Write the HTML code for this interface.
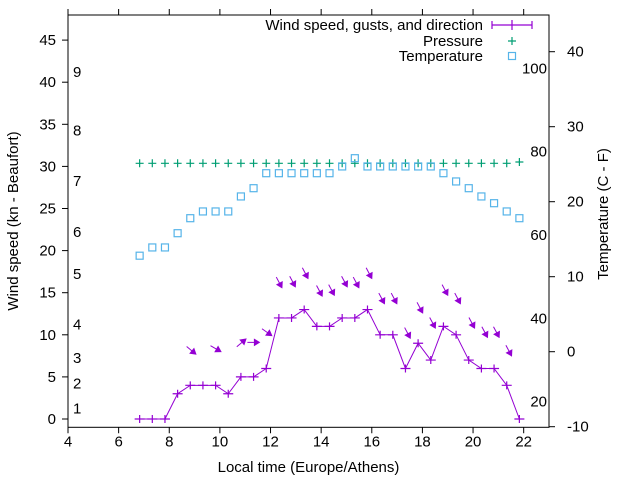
<!DOCTYPE html>
<html><head><meta charset="utf-8"><style>
html,body{margin:0;padding:0;background:#fff}
svg{display:block;font-family:"Liberation Sans",Arial,sans-serif}
</style></head><body>
<svg id="chart" width="640" height="480" viewBox="0 0 640 480" xmlns="http://www.w3.org/2000/svg">
<g id="axes"></g><g id="marks"></g><g id="legend"></g>
</svg>
<script>
const times = [6.83,7.33,7.83,8.33,8.83,9.33,9.83,10.33,10.83,11.33,11.83,12.33,12.83,13.33,13.83,14.33,14.83,15.33,15.83,16.33,16.83,17.33,17.83,18.33,18.83,19.33,19.83,20.33,20.83,21.33,21.83];
const windSpeed = [0,0,0,3,4,4,4,3,5,5,6,12,12,13,11,11,12,12,13,10,10,6,9,7,11,10,7,6,6,4,0];
const pressure = [1013,1013,1013,1013,1013,1013,1013,1013,1013,1013,1013,1013,1013,1013,1013,1013,1013,1013,1013,1013,1013,1013,1013,1013,1013,1013,1013,1013,1013,1013,1014];
const temperature = [12.8,13.9,13.9,15.8,17.8,18.7,18.7,18.7,20.7,21.8,23.8,23.8,23.8,23.8,23.8,23.8,24.7,25.8,24.7,24.7,24.7,24.7,24.7,24.7,23.8,22.7,21.8,20.7,19.8,18.7,17.8];
const arrowTime = [9.05,10.04,11.03,11.56,12.05,12.45,12.98,13.48,14.04,14.52,15.03,15.49,16.0,16.5,16.99,17.52,18.01,18.51,19.0,19.5,20.06,20.57,21.03,21.52];
const arrowLevel = [7.7,8.0,9.5,9.1,9.9,15.6,15.7,16.7,14.6,14.7,15.7,15.6,16.7,13.7,13.7,9.6,12.6,10.8,14.7,13.7,10.8,9.7,9.7,7.5];
const arrowAngle = [40,30,-40,0,35,62,62,62,62,62,62,62,62,62,62,62,62,62,62,62,62,62,62,62];
const xTicks = [4,6,8,10,12,14,16,18,20,22];
const yTicks = [0,5,10,15,20,25,30,35,40,45];
const y2Ticks = [-10,0,10,20,30,40];
const beaufortLabels = [[1,1],[2,4],[3,7],[4,11],[5,17],[6,22],[7,28],[8,34],[9,41]];
const fahrenheitLabels = [20,40,60,80,100];

const L=68,R=549,T=15,B=427.3;
const X = t => L + (t-4)*(R-L)/19;
const Y = v => 419 - v*8.42;
const Y2 = c => 426.7 - (c+10)*7.5;
const YP = p => 163.3 - (p-1013)*1.3;
const NS="http://www.w3.org/2000/svg";
function mk(tag, attrs, parent, text){const e=document.createElementNS(NS,tag);for(const k in attrs)e.setAttribute(k,attrs[k]);if(text!==undefined)e.textContent=text;parent.appendChild(e);return e;}
const axes=document.getElementById('axes'), marks=document.getElementById('marks'), leg=document.getElementById('legend');

let e=mk('rect',{x:L,y:T,width:R-L,height:B-T,fill:'none',stroke:'#000','stroke-width':1},axes);


xTicks.forEach(t=>{
  let tk=mk('path',{d:`M${X(t)},${B}v6M${X(t)},${T}v-6`,stroke:'#000'},axes);
  
  
  let lb=mk('text',{x:X(t),y:B+19,'text-anchor':'middle','font-size':15,fill:'#000'},axes,String(t));
  
  
});
yTicks.forEach(v=>{
  let tk=mk('path',{d:`M${L},${Y(v)}h-6`,stroke:'#000'},axes);
  
  
  let lb=mk('text',{x:L-12,y:Y(v)+5,'text-anchor':'end','font-size':15,fill:'#000'},axes,String(v));
  
  
});
y2Ticks.forEach(v=>{
  let tk=mk('path',{d:`M${R},${Y2(v)}h6`,stroke:'#000'},axes);
  
  
  let lb=mk('text',{x:R+18,y:Y2(v)+5,'text-anchor':'start','font-size':15,fill:'#000'},axes,String(v));
  
  
});
beaufortLabels.forEach(([b,kn])=>{
  let lb=mk('text',{x:73,y:Y(kn)+3,'font-size':15,fill:'#000'},axes,String(b));
  
  
});
fahrenheitLabels.forEach(f=>{
  const c=(f-32)*5/9;
  let lb=mk('text',{x:R-2,y:Y2(c)+5,'text-anchor':'end','font-size':15,fill:'#000'},axes,String(f));
  
  
});
e=mk('text',{x:(L+R)/2,y:472,'text-anchor':'middle','font-size':15},axes,'Local time (Europe/Athens)');


e=mk('text',{x:0,y:0,'text-anchor':'middle','font-size':15,transform:`translate(18,221) rotate(-90)`},axes,'Wind speed (kn - Beaufort)');


e=mk('text',{x:0,y:0,'text-anchor':'middle','font-size':15,transform:`translate(608,214) rotate(-90)`},axes,'Temperature (C - F)');



const P='#9400d3', G='#009e73', C='#56b4e9';
pressure.forEach((p,i)=>{
  const x=X(times[i]),y=YP(p);
  let m=mk('path',{d:`M${x-4},${y}h8M${x},${y-4}v8`,stroke:G,'stroke-width':1.2},marks);
  
  
});
temperature.forEach((c,i)=>{
  const x=X(times[i]),y=Y2(c);
  let m=mk('rect',{x:x-3.5,y:y-3.5,width:7,height:7,fill:'none',stroke:C,'stroke-width':1.2},marks);
  
  
});
e=mk('polyline',{points:windSpeed.map((v,i)=>`${X(times[i])},${Y(v)}`).join(' '),fill:'none',stroke:P,'stroke-width':1},marks);


windSpeed.forEach((v,i)=>{
  const x=X(times[i]),y=Y(v);
  let m=mk('path',{d:`M${x-5},${y}h10M${x},${y-4}v8`,stroke:P,'stroke-width':1.2},marks);
  
  
});
arrowTime.forEach((t,i)=>{
  const hx=X(t),hy=Y(arrowLevel[i]),a=arrowAngle[i]*Math.PI/180,len=12;
  const ux=Math.cos(a),uy=Math.sin(a);
  const tx=hx-ux*len,ty=hy-uy*len;
  const bx=hx-ux*5,by=hy-uy*5,px=-uy*3,py=ux*3;
  let g=mk('g',{},marks);
  
  
  mk('line',{x1:tx,y1:ty,x2:bx,y2:by,stroke:P,'stroke-width':1},g);
  mk('polygon',{points:`${hx},${hy} ${bx+px},${by+py} ${bx-px},${by-py}`,fill:P,stroke:P,'stroke-width':1},g);
});

function legText(y,s,name){let t=mk('text',{x:483,y:y+5,'text-anchor':'end','font-size':15},leg,s);}
legText(25,'Wind speed, gusts, and direction','legend-wind-label');
e=mk('path',{d:'M492,31h40M492,27v8M532,27v8M512,26v10',stroke:P,'stroke-width':1.2,transform:'translate(0,-6)'},leg);


legText(41,'Pressure','legend-pressure-label');
e=mk('path',{d:'M508,41h8M512,37v8',stroke:G,'stroke-width':1.2},leg);


legText(56,'Temperature','legend-temperature-label');
e=mk('rect',{x:508.5,y:52.5,width:7,height:7,fill:'none',stroke:C,'stroke-width':1.2},leg);


</script>
</body></html>
